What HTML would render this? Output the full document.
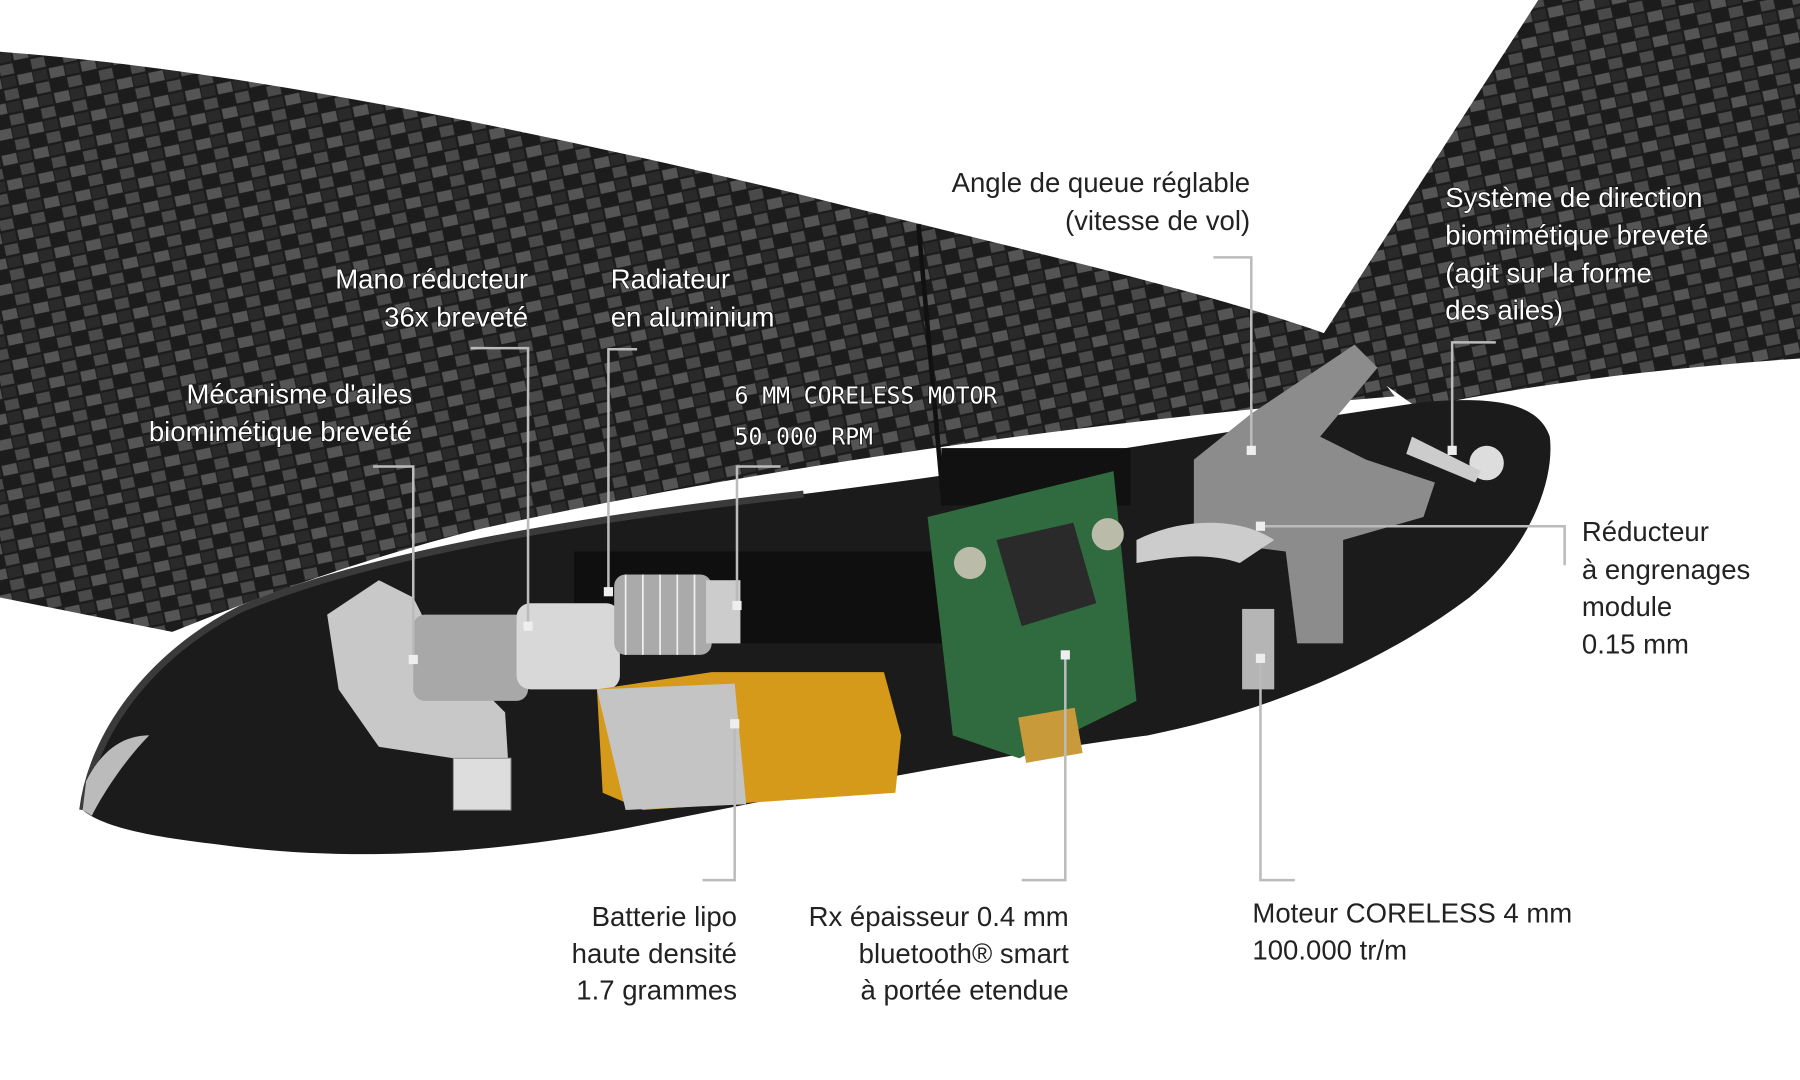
<!DOCTYPE html>
<html><head><meta charset="utf-8"><style>
html,body{margin:0;padding:0;background:#fff;width:1800px;height:1080px;overflow:hidden}
svg{display:block}
.lb{font-family:"Liberation Sans",sans-serif;font-size:24px;fill:#fff;stroke:#111;stroke-width:1.2px;paint-order:stroke;}
.lk{font-family:"Liberation Sans",sans-serif;font-size:24px;fill:#222;}
.ld{fill:none;stroke:#bbb;stroke-width:2.2}
.dot{fill:#eee}
</style></head><body>
<svg width="1800" height="1080" viewBox="0 0 1568 940" preserveAspectRatio="none">
<defs>
<pattern id="cf" width="28" height="22" patternUnits="userSpaceOnUse" patternTransform="rotate(-12)">
<rect width="28" height="22" fill="#1c1c1c"/>
<rect x="1" y="1" width="13" height="9" fill="#555"/>
<rect x="15" y="12" width="12" height="9" fill="#4a4a4a"/>
<rect x="15" y="1" width="12" height="9" fill="#2a2a2a"/>
</pattern>
</defs>
<!-- main wing -->
<path d="M0,45 C200,60 450,110 700,170 C900,220 1080,260 1180,300 L1215,345 C900,370 600,420 420,460 C300,490 200,530 150,550 L0,520 Z" fill="url(#cf)"/>
<!-- right wing -->
<path d="M1150,295 L1340,0 L1568,0 L1568,312 C1450,320 1330,335 1235,355 Z" fill="url(#cf)"/>
<!-- body -->
<path d="M72,705 C80,640 130,570 210,530 C330,480 520,450 700,430 C900,405 1100,370 1240,350 C1300,345 1340,350 1350,380 C1355,420 1330,480 1280,520 C1200,580 1100,620 1000,640 C850,660 700,690 550,720 C420,745 300,750 190,735 C130,728 90,720 72,705 Z" fill="#1b1b1b"/>
<path d="M72,705 C80,640 130,570 210,530 C330,480 520,450 700,430" fill="none" stroke="#3a3a3a" stroke-width="6"/>
<path d="M72,705 L75,680 C90,650 110,640 130,640 C110,660 90,690 80,710Z" fill="#bbb"/>
<rect x="820" y="390" width="165" height="50" fill="#111"/>
<rect x="500" y="480" width="330" height="80" fill="#0f0f0f"/>
<path d="M285,535 L330,505 L360,520 L380,560 L440,620 L445,700 L400,705 L395,660 L330,650 L295,600 Z" fill="#c8c8c8"/>
<rect x="395" y="660" width="50" height="45" fill="#ddd" stroke="#999"/>
<rect x="360" y="535" width="100" height="75" rx="10" fill="#a8a8a8"/>
<rect x="450" y="525" width="90" height="75" rx="12" fill="#d8d8d8"/>
<rect x="535" y="500" width="85" height="70" rx="10" fill="#aaa"/>
<g stroke="#eee" stroke-width="1.5" fill="none"><path d="M545,500 v70 M560,500 v70 M575,500 v70 M590,500 v70 M605,500 v70"/></g>
<rect x="615" y="505" width="30" height="55" fill="#ccc"/>
<path d="M520,600 L620,585 L770,585 L785,640 L780,690 L560,705 L525,690 Z" fill="#d69a1a"/>
<path d="M520,600 L640,595 L650,700 L545,705 Z" fill="#c4c4c4"/>
<path d="M808,450 L970,410 L990,610 L888,660 L830,640 Z" fill="#2f6b3e"/>
<path d="M868,470 L935,455 L955,525 L890,545 Z" fill="#2a2a2a"/>
<rect x="890" y="620" width="50" height="40" fill="#c89a3a" transform="rotate(-10 915 640)"/>
<circle cx="845" cy="490" r="14" fill="#bba"/><circle cx="965" cy="465" r="14" fill="#bba"/>
<path d="M1040,400 L1090,360 L1180,300 L1200,320 L1150,380 L1190,400 L1250,420 L1240,450 L1170,470 L1170,560 L1130,560 L1120,480 L1040,470 Z" fill="#8c8c8c"/>
<path d="M990,470 C1030,450 1080,450 1110,470 L1080,490 C1050,480 1020,485 990,490 Z" fill="#ccc"/>
<circle cx="1295" cy="403" r="15" fill="#ddd"/>
<path d="M1230,380 L1290,410 L1285,420 L1225,395Z" fill="#ccc"/>
<rect x="1082" y="530" width="28" height="70" fill="#b5b5b5"/>
<line x1="800" y1="195" x2="822" y2="440" stroke="#111" stroke-width="4"/>

<path class="ld" d="M325,406 H360 V574"/>
<path class="ld" d="M410,303 H460 V545"/>
<path class="ld" d="M555,304 H530 V515"/>
<path class="ld" d="M680,406 H642 V527"/>
<path class="ld" d="M1057,224 H1090 V392"/>
<path class="ld" d="M1303,298 H1265 V392"/>
<path class="ld" d="M1098,458 H1363 V492"/>
<path class="ld" d="M640,630 V766 H612"/>
<path class="ld" d="M928,570 V766 H890"/>
<path class="ld" d="M1098,573 V766 H1128"/>
<g class="dot"><rect x="356" y="570" width="8" height="8"/><rect x="456" y="541" width="8" height="8"/><rect x="526" y="511" width="8" height="8"/><rect x="638" y="523" width="8" height="8"/><rect x="1086" y="388" width="8" height="8"/><rect x="1261" y="388" width="8" height="8"/><rect x="1094" y="454" width="8" height="8"/><rect x="636" y="626" width="8" height="8"/><rect x="924" y="566" width="8" height="8"/><rect x="1094" y="569" width="8" height="8"/></g>

<g class="lb">
<text x="1259" y="180">Système de direction</text>
<text x="1259" y="213">biomimétique breveté</text>
<text x="1259" y="246">(agit sur la forme</text>
<text x="1259" y="278">des ailes)</text>
<text x="460" y="251" text-anchor="end">Mano réducteur</text>
<text x="460" y="284" text-anchor="end">36x breveté</text>
<text x="532" y="251">Radiateur</text>
<text x="532" y="284">en aluminium</text>
<text x="359" y="351" text-anchor="end">Mécanisme d'ailes</text>
<text x="359" y="384" text-anchor="end">biomimétique breveté</text>
<text x="640" y="351" style="font-size:20px;font-family:'DejaVu Sans Mono',monospace">6 MM CORELESS MOTOR</text>
<text x="640" y="387" style="font-size:20px;font-family:'DejaVu Sans Mono',monospace">50.000 RPM</text>
</g>
<g class="lk">
<text x="1089" y="167" text-anchor="end">Angle de queue réglable</text>
<text x="1089" y="200" text-anchor="end">(vitesse de vol)</text>
<text x="1378" y="471">Réducteur</text>
<text x="1378" y="504">à engrenages</text>
<text x="1378" y="536">module</text>
<text x="1378" y="569">0.15 mm</text>
<text x="642" y="806" text-anchor="end">Batterie lipo</text>
<text x="642" y="838" text-anchor="end">haute densité</text>
<text x="642" y="870" text-anchor="end">1.7 grammes</text>
<text x="931" y="806" text-anchor="end">Rx épaisseur 0.4 mm</text>
<text x="931" y="838" text-anchor="end">bluetooth® smart</text>
<text x="931" y="870" text-anchor="end">à portée etendue</text>
<text x="1091" y="803">Moteur CORELESS 4 mm</text>
<text x="1091" y="835">100.000 tr/m</text>
</g>
</svg>
</body></html>
